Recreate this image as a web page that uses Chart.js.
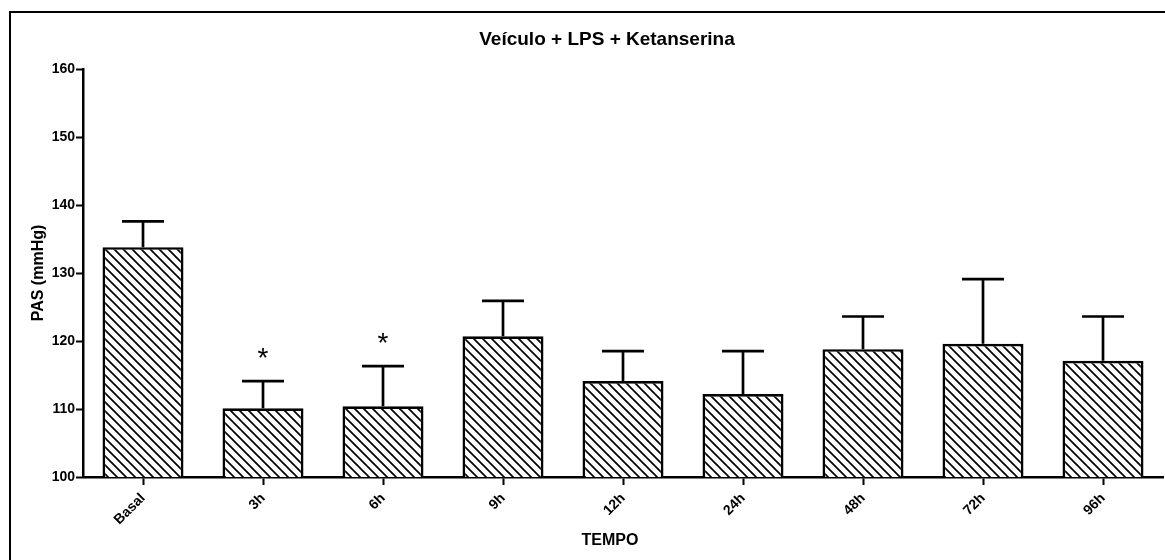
<!DOCTYPE html>
<html>
<head>
<meta charset="utf-8">
<script src="https://cdn.jsdelivr.net/npm/chart.js@4"></script>
<style>
    html, body { margin: 0; padding: 0; background: #fff; }
</style>
</head>
<body>
<canvas id="chart" width="1165" height="560"></canvas>
<script>
// data
const categories = ['Basal', '3h', '6h', '9h', '12h', '24h', '48h', '72h', '96h'];
const means = [133.8, 110.1, 110.4, 120.7, 114.1, 112.2, 118.8, 119.6, 117.1];
const sem = [3.8, 4.0, 5.9, 5.2, 4.4, 6.3, 4.8, 9.5, 6.5];
const marks = ['', '*', '*', '', '', '', '', '', ''];
const yTicks = [100, 110, 120, 130, 140, 150, 160];

const FONT = '"Liberation Sans", Arial, sans-serif';
Chart.defaults.font.family = FONT;
Chart.defaults.color = '#000';

// diagonal hatch fill like the original
function makeHatch(size) {
    const c = document.createElement('canvas');
    c.width = size; c.height = size;
    const g = c.getContext('2d');
    g.fillStyle = '#fff';
    g.fillRect(0, 0, size, size);
    g.strokeStyle = '#000';
    g.lineWidth = 1.7;
    g.beginPath();
    g.moveTo(-size, -size); g.lineTo(2 * size, 2 * size);
    g.moveTo(-size, 0); g.lineTo(size, 2 * size);
    g.moveTo(0, -size); g.lineTo(2 * size, size);
    g.stroke();
    return g.createPattern(c, 'repeat');
}

const framePlugin = {
    id: 'frame',
    beforeDraw(chart) {
        const ctx = chart.ctx;
        ctx.save();
        ctx.fillStyle = '#fff';
        ctx.fillRect(0, 0, chart.width, chart.height);
        ctx.strokeStyle = '#000';
        ctx.lineWidth = 2;
        ctx.strokeRect(10, 12, chart.width + 20, chart.height + 20);
        ctx.restore();
    }
};

const errorBars = {
    id: 'errorBars',
    afterDatasetsDraw(chart) {
        const ctx = chart.ctx;
        const x = chart.scales.x, y = chart.scales.y;
        ctx.save();
        ctx.strokeStyle = '#000';
        ctx.lineWidth = 2.7;
        means.forEach((m, i) => {
            const px = x.getPixelForValue(i);
            const yBar = y.getPixelForValue(m);
            const yTop = y.getPixelForValue(m + sem[i]);
            ctx.beginPath();
            ctx.moveTo(px, yBar);
            ctx.lineTo(px, yTop);
            ctx.moveTo(px - 21, yTop);
            ctx.lineTo(px + 21, yTop);
            ctx.stroke();
            if (marks[i]) {
                ctx.fillStyle = '#000';
                ctx.font = '28px ' + FONT;
                ctx.textAlign = 'center';
                ctx.textBaseline = 'alphabetic';
                ctx.fillText(marks[i], px, yTop - 14);
            }
        });
        ctx.restore();
    }
};

const titles = {
    id: 'titles',
    afterDraw(chart) {
        const ctx = chart.ctx;
        ctx.save();
        ctx.fillStyle = '#000';
        ctx.textAlign = 'center';
        ctx.textBaseline = 'middle';
        ctx.font = 'bold 19px ' + FONT;
        ctx.fillText('Veículo + LPS + Ketanserina', 607, 40);
        ctx.font = 'bold 16px ' + FONT;
        ctx.fillText('TEMPO', 610, 541);
        ctx.restore();
    }
};

const ctx = document.getElementById('chart').getContext('2d');
new Chart(ctx, {
    type: 'bar',
    data: {
        labels: categories,
        datasets: [{
            data: means,
            backgroundColor: makeHatch(9),
            borderColor: '#000',
            borderWidth: 2.7,
            barPercentage: 0.675,
            categoryPercentage: 1
        }]
    },
    options: {
        responsive: false,
        animation: false,
        devicePixelRatio: 1,
        layout: { padding: { left: 0, top: 69, right: 2, bottom: 0 } },
        plugins: {
            legend: { display: false },
            tooltip: { enabled: false }
        },
        scales: {
            x: {
                afterFit: s => { s.height = 83; },
                border: { display: true, color: '#000', width: 2.5 },
                grid: { drawOnChartArea: false, drawTicks: true, tickLength: 8, tickWidth: 2, tickColor: '#000', offset: false },
                ticks: { minRotation: 45, maxRotation: 45, padding: 5, font: { size: 14, weight: 'bold' }, color: '#000' }
            },
            y: {
                min: 100,
                max: 160,
                afterFit: s => { s.width = 83; },
                afterBuildTicks: s => { s.ticks = yTicks.map(v => ({ value: v })); },
                border: { display: true, color: '#000', width: 2.5 },
                grid: { drawOnChartArea: false, drawTicks: true, tickLength: 7, tickWidth: 2, tickColor: '#000' },
                ticks: { padding: 1, font: { size: 14, weight: 'bold' }, color: '#000' },
                title: { display: true, text: 'PAS (mmHg)', font: { size: 16, weight: 'bold' }, color: '#000', padding: { top: 29, bottom: 0 } }
            }
        }
    },
    plugins: [framePlugin, errorBars, titles]
});
</script>
</body>
</html>
